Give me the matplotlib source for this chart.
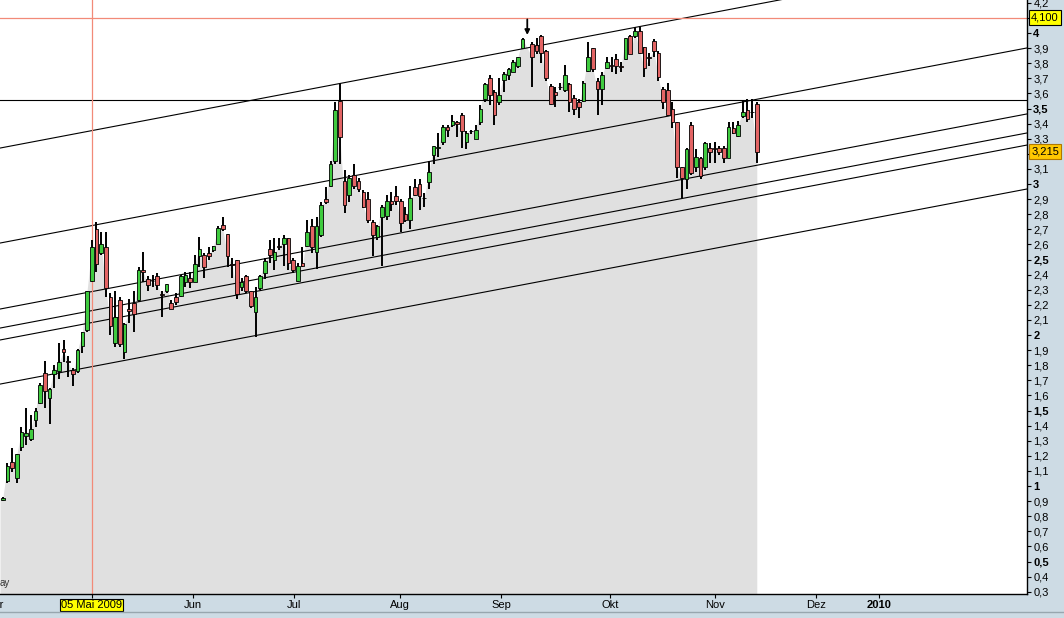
import numpy as np
import matplotlib
matplotlib.use('Agg')
import matplotlib.pyplot as plt
from matplotlib import transforms
from matplotlib.lines import Line2D

plt.rcParams['font.family'] = ['Liberation Sans', 'DejaVu Sans']

# daily candles, one slot per trading day (None = empty slot under the marker arrow)
OPEN = [0.91, 1.03, 1.16, 1.05, 1.26, 1.33, 1.31, 1.44, 1.55, 1.75, 1.58, 1.74, 1.76, 1.91, 1.83, 1.77,
        1.76, 1.93, 2.03, 2.36, 2.70, 2.54, 2.58, 2.25, 1.95, 2.23, 1.89, 2.17, 2.21, 2.23, 2.43, 2.37,
        2.36, 2.39, 2.27, 2.29, 2.21, 2.25, 2.26, 2.35, 2.38, 2.35, 2.52, 2.53, 2.54, 2.56, 2.60, 2.73,
        2.67, 2.47, 2.50, 2.32, 2.39, 2.29, 2.15, 2.31, 2.41, 2.57, 2.50, 2.59, 2.60, 2.64, 2.50, 2.36,
        2.48, 2.59, 2.72, 2.55, 2.66, 2.90, 2.99, 3.15, 3.55, 3.02, 2.93, 3.06, 3.02, 2.95, 2.90, 2.75,
        2.65, 2.78, 2.79, 2.89, 2.92, 2.89, 2.80, 2.76, 2.98, 3.00, 2.91, 3.01, 3.19, 3.24, 3.28, 3.38,
        3.39, 3.41, 3.46, 3.28, 3.35, 3.30, 3.41, 3.56, 3.70, 3.61, 3.54, 3.69, 3.72, 3.74, 3.78, 3.90,
        None, 3.93, 3.92, 3.98, 3.88, 3.65, 3.61, 3.64, 3.62, 3.66, 3.57, 3.54, 3.55, 3.75, 3.90, 3.68,
        3.63, 3.77, 3.79, 3.83, 3.78, 3.83, 3.98, 3.98, 4.01, 3.91, 3.84, 3.95, 3.87, 3.63, 3.62, 3.50,
        3.41, 3.11, 3.03, 3.39, 3.11, 3.17, 3.11, 3.24, 3.24, 3.24, 3.24, 3.17, 3.37, 3.32, 3.45, 3.49,
        3.48, 3.53]
HIGH = [0.93, 1.15, 1.25, 1.21, 1.39, 1.52, 1.47, 1.52, 1.68, 1.83, 1.65, 1.80, 1.95, 1.97, 1.86, 1.78,
        1.91, 2.02, 2.29, 2.63, 2.75, 2.68, 2.68, 2.28, 2.29, 2.25, 2.08, 2.24, 2.29, 2.45, 2.55, 2.39,
        2.40, 2.41, 2.29, 2.34, 2.23, 2.28, 2.40, 2.42, 2.42, 2.53, 2.65, 2.54, 2.58, 2.59, 2.72, 2.78,
        2.67, 2.51, 2.50, 2.38, 2.40, 2.29, 2.32, 2.40, 2.51, 2.63, 2.64, 2.64, 2.66, 2.64, 2.51, 2.48,
        2.58, 2.76, 2.77, 2.78, 2.88, 2.98, 3.15, 3.54, 3.67, 3.09, 3.06, 3.13, 3.04, 2.96, 2.95, 2.76,
        2.73, 2.86, 2.93, 2.95, 2.99, 2.90, 2.85, 2.99, 3.03, 3.03, 2.94, 3.15, 3.25, 3.34, 3.39, 3.39,
        3.46, 3.42, 3.47, 3.35, 3.36, 3.39, 3.52, 3.67, 3.72, 3.62, 3.70, 3.74, 3.77, 3.82, 3.84, 3.97,
        None, 3.94, 3.97, 3.99, 3.89, 3.66, 3.64, 3.67, 3.79, 3.67, 3.59, 3.56, 3.68, 3.94, 3.90, 3.70,
        3.74, 3.84, 3.84, 3.86, 3.81, 3.97, 3.99, 4.04, 4.04, 3.91, 3.87, 3.96, 3.88, 3.64, 3.67, 3.54,
        3.41, 3.11, 3.24, 3.41, 3.23, 3.18, 3.28, 3.27, 3.28, 3.25, 3.25, 3.41, 3.41, 3.42, 3.55, 3.56,
        3.56, 3.54]
LOW = [0.90, 1.02, 1.09, 1.02, 1.23, 1.27, 1.30, 1.39, 1.54, 1.52, 1.41, 1.65, 1.71, 1.82, 1.72, 1.66,
       1.75, 1.88, 2.02, 2.35, 2.42, 2.53, 2.25, 2.00, 1.92, 1.92, 1.84, 2.08, 2.02, 2.22, 2.35, 2.29,
       2.32, 2.30, 2.12, 2.28, 2.17, 2.20, 2.25, 2.32, 2.31, 2.35, 2.45, 2.38, 2.50, 2.55, 2.60, 2.69,
       2.45, 2.38, 2.24, 2.29, 2.28, 2.18, 1.99, 2.30, 2.37, 2.48, 2.43, 2.56, 2.46, 2.43, 2.41, 2.35,
       2.45, 2.58, 2.54, 2.44, 2.65, 2.87, 2.98, 3.13, 3.13, 2.81, 2.88, 2.97, 2.95, 2.84, 2.74, 2.52,
       2.63, 2.46, 2.76, 2.82, 2.86, 2.68, 2.75, 2.70, 2.92, 2.83, 2.85, 2.97, 3.13, 3.18, 3.26, 3.31,
       3.38, 3.31, 3.24, 3.23, 3.33, 3.30, 3.39, 3.54, 3.52, 3.39, 3.52, 3.61, 3.69, 3.74, 3.77, 3.90,
       None, 3.64, 3.86, 3.80, 3.68, 3.52, 3.51, 3.62, 3.61, 3.48, 3.46, 3.44, 3.54, 3.74, 3.74, 3.46,
       3.52, 3.76, 3.74, 3.73, 3.74, 3.82, 3.86, 3.97, 3.86, 3.71, 3.78, 3.84, 3.68, 3.50, 3.45, 3.37,
       3.04, 2.91, 2.97, 3.06, 3.08, 3.03, 3.09, 3.14, 3.14, 3.19, 3.14, 3.17, 3.33, 3.31, 3.44, 3.41,
       3.44, 3.14]
CLOSE = [0.92, 1.13, 1.12, 1.21, 1.36, 1.35, 1.38, 1.50, 1.67, 1.63, 1.64, 1.77, 1.82, 1.89, 1.82, 1.74,
         1.90, 2.02, 2.29, 2.58, 2.47, 2.60, 2.31, 2.06, 2.12, 1.94, 2.07, 2.16, 2.14, 2.43, 2.42, 2.33,
         2.355, 2.33, 2.265, 2.34, 2.17, 2.22, 2.39, 2.40, 2.35, 2.47, 2.57, 2.45, 2.52, 2.59, 2.71, 2.70,
         2.52, 2.465, 2.27, 2.35, 2.29, 2.19, 2.25, 2.39, 2.49, 2.53, 2.55, 2.58, 2.64, 2.48, 2.43, 2.46,
         2.46, 2.68, 2.58, 2.72, 2.86, 2.88, 3.13, 3.49, 3.31, 2.86, 3.04, 2.99, 2.97, 2.85, 2.76, 2.66,
         2.72, 2.85, 2.89, 2.87, 2.89, 2.74, 2.76, 2.91, 2.93, 2.92, 2.905, 3.08, 3.25, 3.245, 3.38, 3.36,
         3.42, 3.40, 3.35, 3.34, 3.35, 3.36, 3.50, 3.66, 3.59, 3.46, 3.59, 3.73, 3.76, 3.81, 3.84, 3.96,
         None, 3.84, 3.88, 3.87, 3.70, 3.53, 3.59, 3.64, 3.72, 3.54, 3.50, 3.51, 3.67, 3.84, 3.76, 3.63,
         3.72, 3.81, 3.78, 3.78, 3.775, 3.97, 3.86, 4.01, 3.87, 3.77, 3.835, 3.88, 3.71, 3.54, 3.46, 3.41,
         3.11, 3.04, 3.23, 3.07, 3.18, 3.05, 3.27, 3.21, 3.235, 3.21, 3.17, 3.38, 3.34, 3.39, 3.48, 3.43,
         3.475, 3.215]

MONTH_POS = [19, 40.6, 62.2, 84.8, 106.4, 129.7, 152.1, 173.7, 187.1]
MONTH_LABELS = ['05 Mai 2009', 'Jun', 'Jul', 'Aug', 'Sep', 'Okt', 'Nov', 'Dez', '2010']

PRICE_TICKS = [round(0.3 + 0.1 * k, 1) for k in range(40)]

# channel lines: price at the left and right edge of the chart
TREND_START = [3.238, 2.609, 2.172, 2.046, 1.967, 1.675]
TREND_END = [4.530, 3.901, 3.464, 3.338, 3.258, 2.967]

RESISTANCE = 3.556
TARGET = 4.10
MARK_DAY = 19
ARROW_DAY = 112
LAST = 3.215

BG = '#cddbe4'
UP = '#3fcb3f'
DOWN = '#e36464'
FILL = '#e0e0e0'
RED_LINE = '#f28a78'

XMIN, XMAX = -0.58, 218.7
YMIN, YMAX = 0.285, 4.2185

o = np.array(OPEN, dtype=float)
h = np.array(HIGH, dtype=float)
l = np.array(LOW, dtype=float)
c = np.array(CLOSE, dtype=float)
x = np.arange(len(c))
ok = ~np.isnan(c)

fig = plt.figure(figsize=(10.64, 6.18), dpi=100, facecolor=BG)
ax = fig.add_axes([0, 24 / 618, 1027 / 1064, 594 / 618])
ax.set_facecolor('white')
ax.set_xlim(XMIN, XMAX)
ax.set_ylim(YMIN, YMAX)

# grey mountain under the closes, reaching the left edge
fill_x = np.concatenate([[XMIN], x[ok]])
fill_y = np.concatenate([[c[0]], c[ok]])
ax.fill_between(fill_x, fill_y, 0, color=FILL, lw=0, zorder=1)

for s, e in zip(TREND_START, TREND_END):
    ax.plot([XMIN, XMAX], [s, e], color='black', lw=0.8, zorder=2)
ax.axhline(RESISTANCE, color='black', lw=0.8, zorder=2)
ax.axhline(TARGET, color=RED_LINE, lw=0.9, zorder=2)
ax.axvline(MARK_DAY, color=RED_LINE, lw=0.9, zorder=2)

ax.vlines(x[ok], l[ok], h[ok], color='black', lw=1.4, zorder=3)
body_lo = np.minimum(o[ok], c[ok])
body_h = np.maximum(np.abs(c[ok] - o[ok]), 0.004)
colors = np.where(c[ok] >= o[ok], UP, DOWN)
ax.bar(x[ok], body_h, bottom=body_lo, width=0.78, color=colors,
       edgecolor='black', linewidth=0.6, zorder=4)

ax.annotate('', xy=(ARROW_DAY, 3.987), xytext=(ARROW_DAY, 4.09),
            arrowprops=dict(arrowstyle='-|>', color='black', lw=1.3,
                            mutation_scale=7, shrinkA=0, shrinkB=0))

for side in ['top', 'left']:
    ax.spines[side].set_visible(False)
for side in ['bottom', 'right']:
    ax.spines[side].set_color('black')
    ax.spines[side].set_linewidth(1)

# price labels hidden behind the two value boxes are left blank
hidden = {round(TARGET, 1), round(LAST, 1)}
ylabels = ['' if v in hidden else f'{v:g}'.replace('.', ',') for v in PRICE_TICKS]
ax.yaxis.tick_right()
ax.set_yticks(PRICE_TICKS, ylabels)
ax.tick_params(axis='y', direction='out', length=3, width=0.8, pad=1.5, labelsize=8)
for v, lab in zip(PRICE_TICKS, ax.get_yticklabels()):
    if abs(v * 2 - round(v * 2)) < 1e-6:
        lab.set_fontweight('bold')

ax.set_xticks(MONTH_POS, MONTH_LABELS)
ax.tick_params(axis='x', direction='out', length=3, width=0.8, pad=1.5, labelsize=8)
xl = ax.get_xticklabels()
xl[0].set_bbox(dict(boxstyle='square,pad=0.1', fc='#ffff00', ec='black', lw=0.8))
xl[-1].set_fontweight('bold')

trans_x = transforms.blended_transform_factory(ax.transData, ax.transAxes)
ax.text(-1.6, -0.0095, 'Apr', transform=trans_x, ha='center', va='top', fontsize=8, clip_on=False)
ax.text(0.0, 0.01, 'ay', transform=ax.transAxes, ha='left', va='bottom', fontsize=7, color='#333333')

trans_y = transforms.blended_transform_factory(ax.transAxes, ax.transData)
ax.text(1.004, TARGET, '4,100', transform=trans_y, ha='left', va='center', fontsize=8,
        bbox=dict(boxstyle='square,pad=0.22', fc='#ffff00', ec='black', lw=0.8), zorder=6)
ax.text(1.004, LAST, f'{LAST:.3f}'.replace('.', ','), transform=trans_y, ha='left', va='center',
        fontsize=8, bbox=dict(boxstyle='square,pad=0.22', fc='#ffc800', ec='#b07800', lw=0.8), zorder=6)

fig.add_artist(Line2D([0, 1], [6 / 618, 6 / 618], transform=fig.transFigure, color='#98a6ae', lw=1))

fig.savefig('out.png', dpi=100, facecolor=fig.get_facecolor())
